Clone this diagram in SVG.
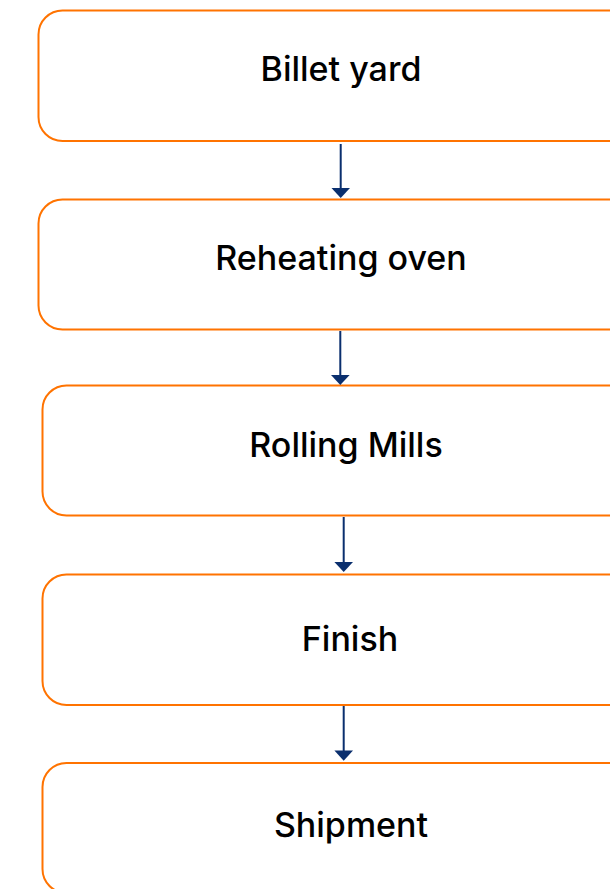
<svg xmlns="http://www.w3.org/2000/svg" width="610" height="889" viewBox="0 0 610 889">
<defs>
<style>
.box{fill:#fff;stroke:#ff7300;stroke-width:2}
.lbl{font-family:Inter,"Liberation Sans",sans-serif;font-size:34px;font-weight:500;fill:#000;text-anchor:middle}
.con{stroke:#0a2f6e;stroke-width:2;fill:none}
.head{fill:#0a2f6e}
</style>
</defs>
<rect width="610" height="889" fill="#fff"/>
<g id="node-billet-yard"><rect class="box" x="38.5" y="10.5" width="605" height="130.5" rx="24"/><text class="lbl" x="341" y="81">Billet yard</text></g>
<g id="node-reheating-oven"><rect class="box" x="38.5" y="199.5" width="605" height="130" rx="24"/><text class="lbl" x="341" y="270">Reheating oven</text></g>
<g id="node-rolling-mills"><rect class="box" x="42.5" y="385.5" width="607" height="130" rx="24"/><text class="lbl" x="346" y="457">Rolling Mills</text></g>
<g id="node-finish"><rect class="box" x="42.5" y="574.5" width="615" height="130.5" rx="24"/><text class="lbl" x="350" y="651">Finish</text></g>
<g id="node-shipment"><rect class="box" x="42.5" y="763" width="617" height="130" rx="24"/><text class="lbl" x="351" y="837">Shipment</text></g>
<g id="connectors">
<line class="con" x1="340.7" y1="144" x2="340.7" y2="189"/><polygon class="head" points="331.5,188 350,188 340.7,198"/>
<line class="con" x1="340.3" y1="331" x2="340.3" y2="376"/><polygon class="head" points="331,375 349.6,375 340.3,385"/>
<line class="con" x1="343.7" y1="517" x2="343.7" y2="563"/><polygon class="head" points="334.4,562 353,562 343.7,572"/>
<line class="con" x1="343.7" y1="706" x2="343.7" y2="751"/><polygon class="head" points="334.4,750.5 353,750.5 343.7,760.7"/>
</g>
</svg>
